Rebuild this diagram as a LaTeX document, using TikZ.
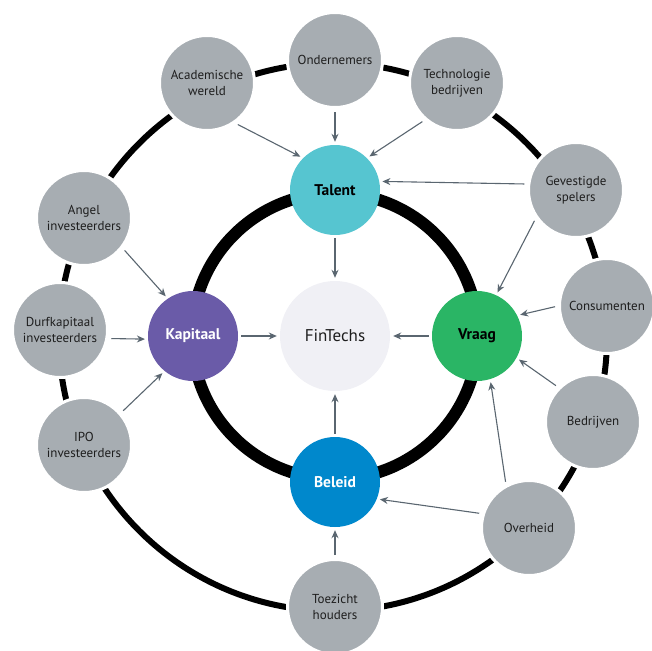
\documentclass[tikz,border=0pt]{standalone}
\usepackage{fontspec}
\setmainfont{PT Sans}
\usetikzlibrary{arrows.meta}
\definecolor{graynode}{HTML}{A7ADB2}
\definecolor{talentc}{HTML}{56C5D0}
\definecolor{kapc}{HTML}{6A5BA8}
\definecolor{vraagc}{HTML}{2AB565}
\definecolor{beleidc}{HTML}{0088CC}
\definecolor{finc}{HTML}{F0F0F5}
\definecolor{arrowc}{HTML}{5A6670}
\definecolor{txtc}{HTML}{1E1E1E}
\tikzset{
  outer/.style={circle, fill=graynode, draw=white, line width=3pt, minimum size=95pt, inner sep=0pt, align=center, font=\fontsize{13}{16}\selectfont, text=txtc},
  pillar/.style={circle, minimum size=90pt, inner sep=0pt, font=\fontsize{15.5}{18}\selectfont\bfseries},
  conn/.style={draw=arrowc, line width=1.1pt, -{Stealth[length=8pt,width=7pt]}, shorten <=3pt, shorten >=3pt}
}
\begin{document}
\begin{tikzpicture}[x=1pt,y=-1pt]
\useasboundingbox (0,0) rectangle (652,650);
% rings
\draw[line width=6pt] (333,337) circle (274);
\draw[line width=12pt] (335,336) circle (143);
% outer nodes
\node[outer] (ond) at (335,60) {Ondernemers};
\node[outer] (acad) at (207,83) {Academische\\wereld};
\node[outer] (tech) at (457,83) {Technologie\\bedrijven};
\node[outer] (gev) at (576,190) {Gevestigde\\spelers};
\node[outer] (cons) at (607,306) {Consumenten};
\node[outer] (bedr) at (593,422) {Bedrijven};
\node[outer] (over) at (529,528) {Overheid};
\node[outer] (toez) at (335,607) {Toezicht\\houders};
\node[outer] (ipo) at (84,445) {IPO\\investeerders};
\node[outer] (durf) at (60,330) {Durfkapitaal\\investeerders};
\node[outer] (angel) at (84,218) {Angel\\investeerders};
% inner nodes
\node[pillar, fill=talentc, text=black] (talent) at (335,190) {Talent};
\node[pillar, fill=kapc, text=white] (kap) at (193,336) {Kapitaal};
\node[pillar, fill=vraagc, text=black] (vraag) at (477,336) {Vraag};
\node[pillar, fill=beleidc, text=white] (beleid) at (335,482) {Beleid};
\node[circle, fill=finc, minimum size=110pt, inner sep=0pt, font=\fontsize{17}{20}\selectfont, text=txtc] (fin) at (335,336) {FinTechs};
% connectors
\draw[conn] (ond.-90) -- (talent.90);
\draw[conn] (acad.-55) -- (talent.135);
\draw[conn] (tech.-131) -- (talent.45);
\draw[conn] (gev.173) -- (talent.11);
\draw[conn] (gev.-145) -- (vraag.65);
\draw[conn] (cons.180) -- (vraag.27);
\draw[conn] (bedr.135) -- (vraag.-29);
\draw[conn] (over.118) -- (vraag.-73);
\draw[conn] (over.163) -- (beleid.-22);
\draw[conn] (toez.90) -- (beleid.-90);
\draw[conn] (beleid.90) -- (fin.-90);
\draw[conn] (talent.-90) -- (fin.90);
\draw[conn] (kap.0) -- (fin.180);
\draw[conn] (vraag.180) -- (fin.0);
\draw[conn] (angel.-38) -- (kap.124);
\draw[conn] (durf.-10) -- (kap.184);
\draw[conn] (ipo.41) -- (kap.-129);
\end{tikzpicture}
\end{document}
